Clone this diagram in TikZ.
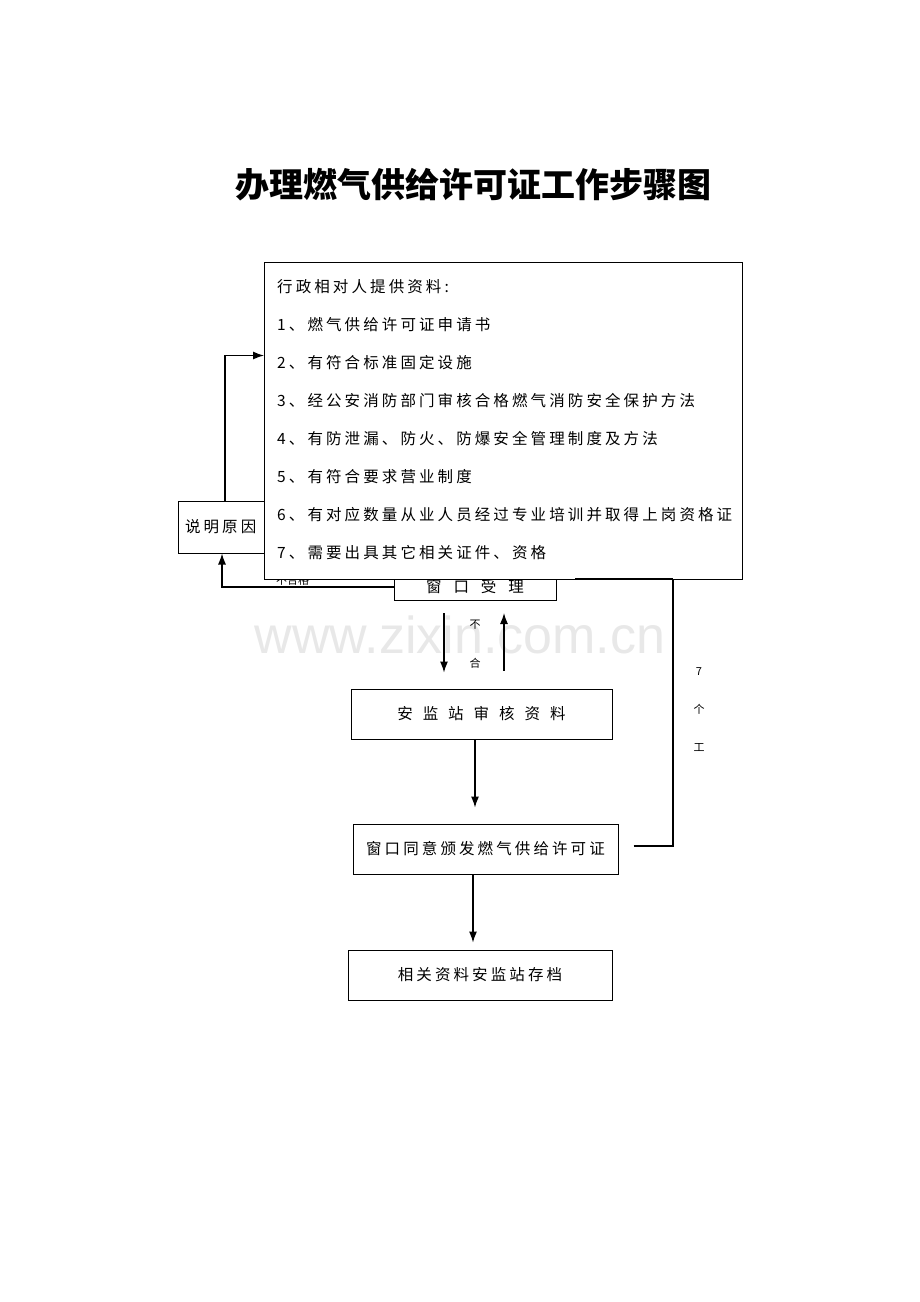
\documentclass[tikz,border=0pt]{standalone}
\usepackage{fontspec}
\usetikzlibrary{arrows.meta}
\newfontfamily\cjk{Noto Sans CJK SC}
\newfontfamily\cjksp[LetterSpace=20]{Noto Sans CJK SC}
\newfontfamily\wmfont{Liberation Sans}
\tikzset{
  box/.style={draw, line width=1pt, inner sep=0pt, fill=white},
  arr/.style={line width=1.2pt, -{Latex[length=11pt,width=8pt]}},
  ln/.style={line width=1.1pt},
  txt/.style={font=\cjksp\fontsize{15.5}{18}\selectfont},
  small/.style={font=\cjk\fontsize{11}{13}\selectfont, inner sep=0pt}
}
\begin{document}
\begin{tikzpicture}[x=1pt,y=-1pt]
\useasboundingbox (0,0) rectangle (920,1302);
% watermark
\node[font=\wmfont\fontsize{52}{60}\selectfont, text=black!9, inner sep=0pt] (wm) at (460,635) {www.zixin.com.cn};
% title
\node[font=\cjk\bfseries\fontsize{34}{40}\selectfont, inner sep=0pt] (title) at (473,185) {办理燃气供给许可证工作步骤图};
% boxes
\node[box, minimum width=120, minimum height=52, txt, text width=106, align=left] (shuoming) at (238,527) {说明原因};
\node[box, minimum width=162, minimum height=27, txt] (chuangkou) at (475,587) {窗\hspace{12pt}口\hspace{12pt}受\hspace{12pt}理};
\node[box, minimum width=261, minimum height=50, txt] (jiandu) at (481.5,714) {安\hspace{10pt}监\hspace{10pt}站\hspace{10pt}审\hspace{10pt}核\hspace{10pt}资\hspace{10pt}料};
\node[box, minimum width=265, minimum height=50, txt] (tongyi) at (485.5,849) {窗口同意颁发燃气供给许可证};
\node[box, minimum width=264, minimum height=50, txt] (cundang) at (480,975) {相关资料安监站存档};
% labels
\node[small, anchor=west] (buhege) at (276,580) {不合格};
\node[small] (bu) at (475,625) {不};
\node[small] (he) at (475,663) {合};
\node[small, align=center, font=\cjk\fontsize{11}{38}\selectfont] (gong) at (699,710) {7\\个\\工};
% connectors
\draw[arr] (chuangkou.west) -| ([xshift=-16pt]shuoming.south);
\draw[arr] ([xshift=-31pt,yshift=-12pt]chuangkou.south) -- ([xshift=-37.5pt,yshift=16pt]jiandu.north);
\draw[arr] ([xshift=22.5pt,yshift=18pt]jiandu.north) -- ([xshift=29pt,yshift=-12pt]chuangkou.south);
\draw[arr] ([xshift=-6.5pt]jiandu.south) -- ([xshift=-10.5pt,yshift=16pt]tongyi.north);
\draw[arr] ([xshift=-12.5pt]tongyi.south) -- ([xshift=-7pt,yshift=7pt]cundang.north);
\coordinate (corner) at (673,579);
\coordinate (endr) at (575,579);
\draw[ln] ([xshift=15pt,yshift=3pt]tongyi.east) -| (corner) -- (endr);
% big requirement box (drawn on top)
\node[box, minimum width=478, minimum height=317, anchor=north west] (req) at (264,262) {};
\draw[line width=2pt] (corner) -- (endr);
\draw[arr] ([xshift=-13pt]shuoming.north) |- ([yshift=65.5pt]req.west);
\node[anchor=west, align=left, inner sep=0pt, font=\cjksp\fontsize{15.5}{38}\selectfont] (reqtext) at (277,420) {行政相对人提供资料:\\1、燃气供给许可证申请书\\2、有符合标准固定设施\\3、经公安消防部门审核合格燃气消防安全保护方法\\4、有防泄漏、防火、防爆安全管理制度及方法\\5、有符合要求营业制度\\6、有对应数量从业人员经过专业培训并取得上岗资格证\\7、需要出具其它相关证件、资格};
\end{tikzpicture}
\end{document}
